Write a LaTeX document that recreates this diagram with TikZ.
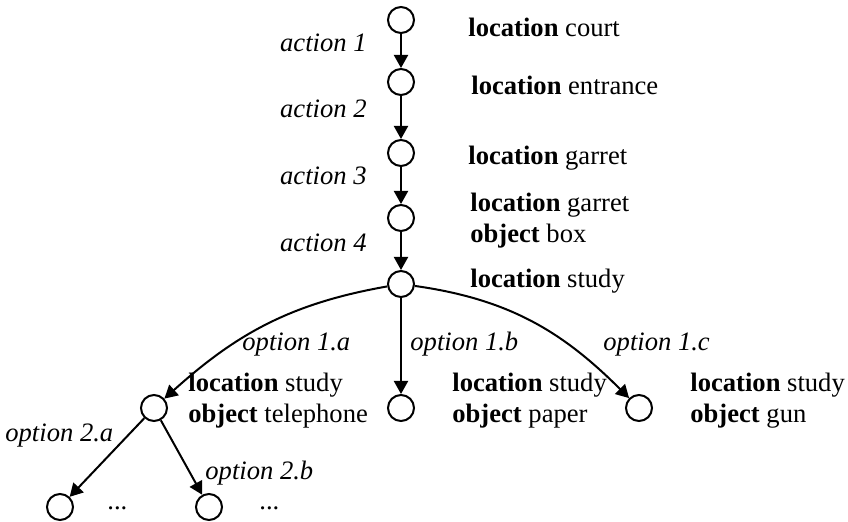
\documentclass[tikz,border=0pt]{standalone}
\usepackage{fontspec}
\setmainfont{Liberation Serif}
\usetikzlibrary{arrows.meta}
\newcommand{\fsz}{\fontsize{13.3}{15.5}\selectfont}
\tikzset{
 st/.style
  = {circle, draw, line width=1pt, minimum size=13pt, inner sep=0pt},
 lb/.style
  = {anchor=base west, inner sep=0pt, align=left, font=\fsz},
 ac/.style
  = {anchor=base east, inner sep=0pt, font=\fsz\itshape},
 op/.style
  = {anchor=base west, inner sep=0pt, font=\fsz\itshape},
 arrow/.style
  = {line width=1pt, -{Triangle[length=6.5pt,width=7pt]}},
}

\begin{document}
\begin{tikzpicture}[x=0.5pt, y=-0.5pt]
\useasboundingbox (0,0) rectangle (848,522);

% States along the trunk
\node[st] (s1) at (401,20) {};
\node[st] (s2) at (401,82) {};
\node[st] (s3) at (401,153) {};
\node[st] (s4) at (401,218) {};
\node[st] (s5) at (401,284) {};

% Options
\node[st] (sa) at (154,408) {};
\node[st] (sb) at (401,408) {};
\node[st] (sc) at (639,408) {};
\node[st] (sd) at (60,507) {};
\node[st] (se) at (209,507) {};

% Trunk arrows
\draw[arrow] (s1) -- (s2);
\draw[arrow] (s2) -- (s3);
\draw[arrow] (s3) -- (s4);
\draw[arrow] (s4) -- (s5);

% Branches
\draw[arrow] (s5) to[out=190, in=42] (sa);
\draw[arrow] (s5) -- (sb);
\draw[arrow] (s5) to[out=-8, in=135] (sc);
\draw[arrow] (sa) -- (sd);
\draw[arrow] (sa) -- (se);

% Action labels
\node[ac] (a1) at (367,52) {action 1};
\node[ac] (a2) at (367,118) {action 2};
\node[ac] (a3) at (367,185) {action 3};
\node[ac] (a4) at (367,252) {action 4};

% Option labels
\node[op] (o1a) at (242,351) {option 1.a};
\node[op] (o1b) at (410,351) {option 1.b};
\node[op] (o1c) at (603,351) {option 1.c};
\node[op] (o2a) at (5,442) {option 2.a};
\node[op] (o2b) at (205,480) {option 2.b};

% State descriptions (base = last line)
\node[lb] (t1) at (468,37) {\textbf{location} court};
\node[lb] (t2) at (471,95) {\textbf{location} entrance};
\node[lb] (t3) at (468,165) {\textbf{location} garret};
\node[lb] (t4) at (470,243) {\textbf{location} garret\\\textbf{object} box};
\node[lb] (t5) at (470,288) {\textbf{location} study};
\node[lb] (ta) at (188,423) {\textbf{location} study\\\textbf{object} telephone};
\node[lb] (tb) at (452,423) {\textbf{location} study\\\textbf{object} paper};
\node[lb] (tc) at (690,423) {\textbf{location} study\\\textbf{object} gun};
\node[lb] (td) at (107,510) {...};
\node[lb] (te) at (259,510) {...};

\end{tikzpicture}
\end{document}
